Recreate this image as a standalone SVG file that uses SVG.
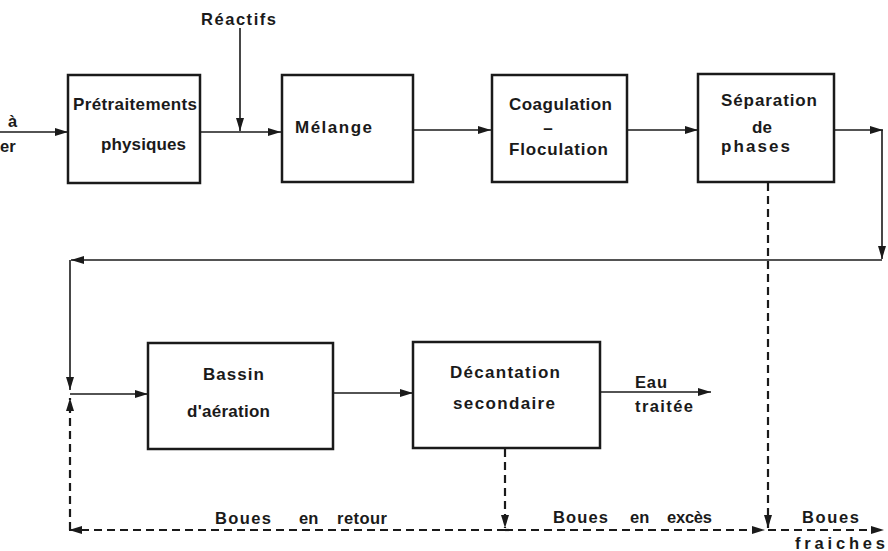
<svg xmlns="http://www.w3.org/2000/svg" width="888" height="551" viewBox="0 0 888 551">
<style>
.box{fill:#fff;stroke:#1a1a1a;stroke-width:2.5}
.t{font-family:"Liberation Sans",Arial,sans-serif;font-weight:bold;font-size:17px;fill:#1a1a1a}
.s{font-size:16.5px}
.ln{fill:none;stroke:#1a1a1a;stroke-width:1.6}
.ds{fill:none;stroke:#1a1a1a;stroke-width:2.2;stroke-dasharray:8 5}
</style>
<defs>
<marker id="ah" viewBox="0 0 13 8" refX="13" refY="4" markerWidth="13" markerHeight="8" markerUnits="userSpaceOnUse" orient="auto">
<path d="M0,0 L13,4 L0,8 Z" fill="#1a1a1a"/>
</marker>
</defs>
<rect width="888" height="551" fill="#fff"/>
<g id="connectors">
<line class="ln" x1="0" y1="132" x2="68" y2="132" marker-end="url(#ah)"/>
<line class="ln" x1="240" y1="28" x2="240" y2="131" marker-end="url(#ah)"/>
<line class="ln" x1="200" y1="132" x2="281" y2="132" marker-end="url(#ah)"/>
<line class="ln" x1="413" y1="130" x2="491" y2="130" marker-end="url(#ah)"/>
<line class="ln" x1="627" y1="130" x2="698" y2="130" marker-end="url(#ah)"/>
<line class="ln" x1="834" y1="130" x2="883" y2="130" marker-end="url(#ah)"/>
<line class="ln" x1="882" y1="130" x2="882" y2="259" marker-end="url(#ah)"/>
<line class="ln" x1="882" y1="260" x2="71" y2="260" marker-end="url(#ah)"/>
<line class="ln" x1="70" y1="260" x2="70" y2="390" marker-end="url(#ah)"/>
<line class="ln" x1="70" y1="394" x2="148" y2="394" marker-end="url(#ah)"/>
<line class="ln" x1="333" y1="393" x2="413" y2="393" marker-end="url(#ah)"/>
<line class="ln" x1="600" y1="392" x2="711" y2="392" marker-end="url(#ah)"/>
<line class="ds" x1="70" y1="530" x2="70" y2="398" marker-end="url(#ah)"/>
<line class="ds" x1="505" y1="449" x2="505" y2="528" marker-end="url(#ah)"/>
<line class="ds" x1="768" y1="183" x2="768" y2="528" marker-end="url(#ah)"/>
<line class="ds" x1="505" y1="530" x2="69" y2="530" marker-end="url(#ah)"/>
<line class="ds" x1="505" y1="530" x2="765" y2="530" marker-end="url(#ah)"/>
<line class="ds" x1="768" y1="530" x2="884" y2="530" marker-end="url(#ah)"/>
</g>
<g id="labels">
<text class="t s" x="8" y="127">à</text>
<text class="t s" x="0" y="152">er</text>
<text class="t s" x="201" y="25" textLength="75" lengthAdjust="spacing">Réactifs</text>
<text class="t s" x="635" y="388" textLength="32" lengthAdjust="spacing">Eau</text>
<text class="t s" x="635" y="412" textLength="58" lengthAdjust="spacing">traitée</text>
<text class="t s" y="524"><tspan x="215" textLength="56" lengthAdjust="spacing">Boues</tspan><tspan x="299">en</tspan><tspan x="337" textLength="50" lengthAdjust="spacing">retour</tspan></text>
<text class="t s" y="523"><tspan x="553" textLength="55" lengthAdjust="spacing">Boues</tspan><tspan x="630">en</tspan><tspan x="667" textLength="45" lengthAdjust="spacing">excès</tspan></text>
<text class="t s" x="802" y="523" textLength="57" lengthAdjust="spacing">Boues</text>
<text class="t s" x="795" y="549" textLength="90" lengthAdjust="spacing">fraiches</text>
</g>
<g id="pretraitements">
<rect class="box" x="68" y="75" width="132" height="108"/>
<text class="t" x="73" y="110" textLength="124" lengthAdjust="spacing">Prétraitements</text>
<text class="t" x="101" y="150" textLength="85" lengthAdjust="spacing">physiques</text>
</g>
<g id="melange">
<rect class="box" x="282" y="75" width="131" height="107"/>
<text class="t" x="295" y="133" textLength="77" lengthAdjust="spacing">Mélange</text>
</g>
<g id="coagulation">
<rect class="box" x="492" y="75" width="135" height="107"/>
<text class="t" x="509" y="110" textLength="103" lengthAdjust="spacing">Coagulation</text>
<text class="t" x="548" y="134" text-anchor="middle">–</text>
<text class="t" x="509" y="155" textLength="99" lengthAdjust="spacing">Floculation</text>
</g>
<g id="separation">
<rect class="box" x="698" y="74" width="136" height="108"/>
<text class="t" x="721" y="106" textLength="96" lengthAdjust="spacing">Séparation</text>
<text class="t" x="752" y="133">de</text>
<text class="t" x="721" y="152" textLength="69" lengthAdjust="spacing">phases</text>
</g>
<g id="bassin">
<rect class="box" x="148" y="343" width="185" height="106"/>
<text class="t" x="203" y="380" textLength="61" lengthAdjust="spacing">Bassin</text>
<text class="t" x="187" y="417" textLength="83" lengthAdjust="spacing">d'aération</text>
</g>
<g id="decantation">
<rect class="box" x="413" y="342" width="187" height="106"/>
<text class="t" x="450" y="378" textLength="110" lengthAdjust="spacing">Décantation</text>
<text class="t" x="453" y="409" textLength="102" lengthAdjust="spacing">secondaire</text>
</g>
</svg>
